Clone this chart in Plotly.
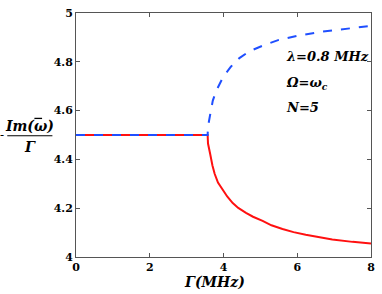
import plotly.graph_objects as go

# Data
gamma_lower = [0, 1, 2, 3, 3.57, 3.58, 3.60, 3.64, 3.70, 3.76, 3.85, 3.98, 4.10, 4.25, 4.40,
               4.61, 4.80, 5.06, 5.30, 5.60, 5.90, 6.23, 6.60, 6.95, 7.50, 8.0]
im_lower = [4.5, 4.5, 4.5, 4.5, 4.5, 4.465, 4.445, 4.421, 4.375, 4.341, 4.305, 4.275, 4.248, 4.221, 4.201,
            4.181, 4.165, 4.148, 4.130, 4.115, 4.102, 4.091, 4.081, 4.072, 4.062, 4.055]
gamma_upper = [0, 1, 2, 3, 3.57, 3.58, 3.60, 3.64, 3.71, 3.80, 3.98, 4.20, 4.43, 4.70, 5.06,
               5.50, 6.05, 6.60, 7.14, 7.60, 8.0]
im_upper = [4.5, 4.5, 4.5, 4.5, 4.5, 4.535, 4.555, 4.585, 4.641, 4.680, 4.735, 4.780, 4.815, 4.843, 4.866,
            4.890, 4.908, 4.922, 4.932, 4.940, 4.947]

x_ticks = [0, 2, 4, 6, 8]
y_ticks = [4, 4.2, 4.4, 4.6, 4.8, 5]
y_tick_labels = ["4", "4.2", "4.4", "4.6", "4.8", "5"]

serif = "DejaVu Serif"

fig = go.Figure()
fig.add_trace(go.Scatter(x=gamma_lower, y=im_lower, mode="lines",
                         line=dict(color="#ff1010", width=2),
                         showlegend=False))
fig.add_trace(go.Scatter(x=gamma_upper, y=im_upper, mode="lines",
                         line=dict(color="#1f4fff", width=2, dash="dash"),
                         showlegend=False))

axis_common = dict(showline=True, linecolor="#555555", linewidth=1, mirror="ticks",
                   ticks="inside", ticklen=4, tickcolor="#555555", showgrid=False,
                   zeroline=False,
                   tickfont=dict(family=serif, size=11, color="black", weight="bold"))

fig.update_xaxes(range=[0, 8], tickvals=x_ticks, **axis_common)
fig.update_yaxes(range=[4, 5], tickvals=y_ticks, ticktext=y_tick_labels, **axis_common)

ann_font = dict(family=serif, size=13, color="black", weight="bold", style="italic")
fig.add_annotation(text="λ=0.8 MHz", xref="paper", yref="paper", x=0.705, y=0.82,
                   xanchor="left", yanchor="middle", showarrow=False, font=ann_font)
fig.add_annotation(text="Ω=ω<sub>c</sub>", xref="paper", yref="paper", x=0.705, y=0.712,
                   xanchor="left", yanchor="middle", showarrow=False, font=ann_font)
fig.add_annotation(text="N=5", xref="paper", yref="paper", x=0.705, y=0.612,
                   xanchor="left", yanchor="middle", showarrow=False, font=ann_font)

# Axis titles
fig.add_annotation(text="Γ(MHz)", xref="paper", yref="paper", x=0.47, y=-0.102,
                   xanchor="center", yanchor="middle", showarrow=False,
                   font=dict(family=serif, size=14, color="black", weight="bold", style="italic"))

lab_font = dict(family=serif, size=14, color="black", weight="bold", style="italic")
# y-axis label as fraction -Im(ω̄)/Γ
fig.add_annotation(text="Im(ω)", xref="paper", yref="paper", x=-0.157, y=0.535,
                   xanchor="center", yanchor="middle", showarrow=False, font=lab_font)
fig.add_shape(type="line", xref="paper", yref="paper", x0=-0.141, x1=-0.115,
              y0=0.568, y1=0.568, line=dict(color="black", width=1.3))
fig.add_annotation(text="Γ", xref="paper", yref="paper", x=-0.157, y=0.452,
                   xanchor="center", yanchor="middle", showarrow=False, font=lab_font)
fig.add_annotation(text="-", xref="paper", yref="paper", x=-0.238, y=0.5,
                   xanchor="right", yanchor="middle", showarrow=False,
                   font=dict(family=serif, size=12, color="black"))
fig.add_shape(type="line", xref="paper", yref="paper", x0=-0.233, x1=-0.08,
              y0=0.497, y1=0.497, line=dict(color="black", width=1.2))

fig.update_layout(width=382, height=294,
                  margin=dict(l=76, r=9, t=7, b=37),
                  font=dict(family=serif),
                  paper_bgcolor="white", plot_bgcolor="white")

fig.write_html("out.html", config={"displayModeBar": False},
               post_script="document.body.style.margin='0';")
